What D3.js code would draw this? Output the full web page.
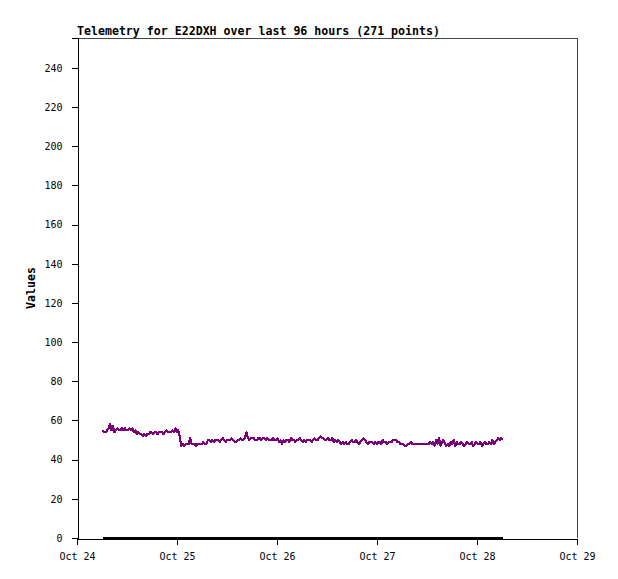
<!DOCTYPE html>
<html>
<head>
<meta charset="utf-8">
<script src="https://cdn.jsdelivr.net/npm/d3@7"></script>
<style>
  html, body { margin: 0; padding: 0; background: #fff; }
  svg { display: block; }
  text { font-family: "DejaVu Sans Mono", "Liberation Mono", monospace; }
</style>
</head>
<body>
<svg id="chart" width="618" height="579"></svg>
<script>
const titleText = "Telemetry for E22DXH over last 96 hours (271 points)";
const yLabel = "Values";
const tickLabels = ["Oct 24", "Oct 25", "Oct 26", "Oct 27", "Oct 28", "Oct 29"];
const tickDates = ["2023-10-24", "2023-10-25", "2023-10-26", "2023-10-27", "2023-10-28", "2023-10-29"];
const yTicks = [0, 20, 40, 60, 80, 100, 120, 140, 160, 180, 200, 220, 240];
const startTime = "2023-10-24T06:10:00Z";
const spanHours = 96;
const telemetry = [
  55,54,54,55,56,58,55,57,54,55,
  56,55,55,56,55,56,55,55,56,55,
  56,54,55,53,54,53,53,52,53,52,
  53,53,54,54,53,54,54,53,54,54,
  54,53,54,55,54,54,54,55,54,56,
  54,55,52,47,48,47,48,48,48,51,
  48,48,48,47,48,48,48,48,49,48,
  48,50,50,49,50,49,50,50,50,49,
  50,51,50,49,50,50,50,51,50,49,
  49,50,50,51,50,50,51,54,51,50,
  51,51,51,50,50,51,51,50,51,51,
  50,51,50,50,50,51,50,50,51,49,
  50,48,50,49,50,50,49,51,50,50,
  49,50,50,51,50,49,50,49,50,50,
  50,49,50,51,50,50,51,52,51,51,
  50,50,51,50,50,51,49,50,49,50,
  49,48,49,48,49,48,48,49,50,49,
  49,50,49,48,49,50,51,50,49,48,
  49,49,49,48,49,48,49,49,48,50,
  49,49,48,49,49,49,50,50,50,49,
  49,48,48,48,47,47,48,48,49,48,
  48,48,48,48,48,48,48,48,48,48,
  48,49,48,49,47,50,48,51,47,49,
  50,48,47,48,47,49,48,50,47,49,
  48,48,49,48,47,48,49,48,48,49,
  47,48,49,48,48,49,47,48,49,48,
  48,49,48,50,48,49,50,51,50,51,50
];
const baseline = telemetry.map(() => 0);

const svg = d3.select("#chart");
const m = { left: 77, top: 38, right: 577, bottom: 538 };

const t0 = new Date(startTime).getTime();
const stepMs = spanHours * 3600 * 1000 / (telemetry.length - 1);
const times = telemetry.map((_, i) => new Date(t0 + i * stepMs));

const x = d3.scaleUtc()
  .domain([new Date(tickDates[0] + "T00:00:00Z"), new Date(tickDates[tickDates.length - 1] + "T00:00:00Z")])
  .range([m.left, m.right]);
const y = d3.scaleLinear().domain([0, 255.3]).range([m.bottom, m.top]);

// frame (top & right)
svg.append("path")
  .attr("d", `M${m.left},${m.top + 0.5}H${m.right + 0.5}V${m.bottom}`)
  .attr("fill", "none").attr("stroke", "#444").attr("stroke-width", 1)
  .attr("shape-rendering", "crispEdges");

// x axis
const xAxis = d3.axisBottom(x)
  .tickValues(tickDates.map(d => new Date(d + "T00:00:00Z")))
  .tickFormat((d, i) => tickLabels[i])
  .tickSize(6).tickPadding(8);
const gx = svg.append("g").attr("transform", `translate(0,${m.bottom + 0.5})`).call(xAxis);
gx.select(".domain").attr("stroke", "#000").attr("shape-rendering", "crispEdges");
gx.selectAll(".tick line").attr("stroke", "#000").attr("shape-rendering", "crispEdges");
gx.selectAll("text").attr("font-size", 10).attr("fill", "#000")
  .attr("font-family", "'DejaVu Sans Mono', monospace");

// y axis
const yAxis = d3.axisLeft(y).tickValues(yTicks).tickSize(6).tickPadding(9);
const gy = svg.append("g").attr("transform", `translate(${m.left + 0.5},0)`).call(yAxis);
gy.select(".domain").attr("stroke", "#000").attr("shape-rendering", "crispEdges");
gy.selectAll(".tick line").attr("stroke", "#000").attr("shape-rendering", "crispEdges");
gy.selectAll("text").attr("font-size", 10).attr("fill", "#000")
  .attr("font-family", "'DejaVu Sans Mono', monospace");

// zero series
const line = d3.line().x((d, i) => x(times[i])).y(d => y(d));
svg.append("path").datum(baseline)
  .attr("d", line).attr("fill", "none").attr("stroke", "#000").attr("stroke-width", 2)
  .attr("shape-rendering", "crispEdges");

// telemetry series
svg.append("path").datum(telemetry)
  .attr("d", line).attr("fill", "none").attr("stroke", "#7a007a").attr("stroke-width", 2.2)
  .attr("stroke-linejoin", "round")
  .attr("shape-rendering", "crispEdges");

// title
svg.append("text").attr("x", m.left).attr("y", 34.5)
  .attr("font-size", 11.6).attr("font-weight", "bold").attr("fill", "#000")
  .text(titleText);

// y label
svg.append("text")
  .attr("transform", `translate(35,${(m.top + m.bottom) / 2}) rotate(-90)`)
  .attr("text-anchor", "middle")
  .attr("font-size", 11.6).attr("font-weight", "bold").attr("fill", "#000")
  .text(yLabel);
</script>
</body>
</html>
